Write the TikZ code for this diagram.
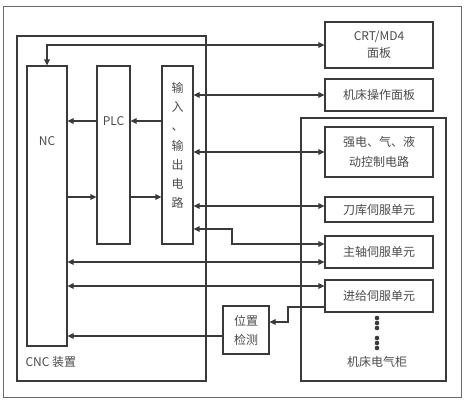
\documentclass[tikz,border=0pt]{standalone}
\usepackage{fontspec}
\setmainfont{Noto Sans CJK SC}
\usetikzlibrary{arrows.meta, positioning, calc}
\definecolor{linegray}{HTML}{3A3A3A}
\definecolor{textgray}{HTML}{4A4A4A}
\definecolor{framegray}{HTML}{6A6A6A}
\tikzset{
  box/.style={draw=linegray, line width=1.1pt, inner sep=0pt},
  txt/.style={text=textgray, font=\fontsize{12}{17}\selectfont, align=center},
  conn/.style={draw=linegray, line width=1.1pt},
  >={Triangle[length=6pt,width=5.5pt]},
}

\begin{document}
\begin{tikzpicture}[x=1pt,y=-1pt]
        \useasboundingbox (0,0) rectangle (465,400);
        % Outer frame and the two groups
        \draw[line width=1pt, framegray] (3.5,6) rectangle (461,397);
        \node[box, minimum width=189, minimum height=345] (cnc) at (111.5,208.5) {};
        \node[box, minimum width=145, minimum height=263] (cab) at (373.5,249.5) {};
        \node[txt, anchor=west] (cnctext) at (22,362) {CNC 装置};
        \node[txt] (cabtext) at (377,362) {机床电气柜};

        % CNC inner blocks
        \node[box, minimum width=40, minimum height=280] (nc) at (47,206) {};
        \node[box, minimum width=33, minimum height=178] (plc) at (113.5,155) {};
        \node[box, minimum width=31, minimum height=178] (io) at (177.5,155) {};
        \node[txt] (nctext) at (47,141) {NC};
        \node[txt] (plctext) at (113.5,121) {PLC};
        \node[txt, font=\fontsize{12}{19.2}\selectfont] (iotext) at (177.5,145.5)
            {输\\入\\、\\输\\出\\电\\路};

        % Panels and units
        \node[box, txt, minimum width=108, minimum height=46] (crt) at (379,45) {CRT/MD4\\面板};
        \node[box, txt, minimum width=108, minimum height=32] (panel) at (379,95) {机床操作面板};
        \node[box, txt, minimum width=108, minimum height=50,
              font=\fontsize{12}{20}\selectfont] (strong) at (379,152) {强电、气、液\\动控制电路};
        \node[box, txt, minimum width=108, minimum height=25] (tool) at (379,209.5) {刀库伺服单元};
        \node[box, txt, minimum width=108, minimum height=32] (spindle) at (379,252) {主轴伺服单元};
        \node[box, txt, minimum width=108, minimum height=32] (feed) at (379,296) {进给伺服单元};
        \node[box, txt, minimum width=46, minimum height=48,
              font=\fontsize{12}{19}\selectfont] (pos) at (246,330) {位置\\检测};

        % Dots below the feed unit
        \foreach \y in {318,323,328,338,343,348}
            \fill[linegray] (377,\y) circle (2.3);

        % Links inside the CNC
        \coordinate (low) at ([yshift=-42pt]plc.center);
        \draw[conn,->] (plc.west |- plctext) -- (nc.east |- plctext);
        \draw[conn,->] (io.west |- plctext) -- (plc.east |- plctext);
        \draw[conn,->] (nc.east |- low) -- (plc.west |- low);
        \draw[conn,->] (plc.east |- low) -- (io.west |- low);

        % Links to the panels and units
        \draw[conn,<->] (crt.west) -| (nc.north);
        \draw[conn,<->] (io.east |- panel.west) -- (panel.west);
        \draw[conn,<->] (io.east |- strong.west) -- (strong.west);
        \coordinate (tl) at ([yshift=3.5pt]tool.west);
        \draw[conn,<->] (io.east |- tl) -- (tl);
        \coordinate (bend) at (232,229);
        \draw[conn,<->] (io.east |- bend) -- (bend) |- ([yshift=8pt]spindle.west);
        \coordinate (sp) at ([yshift=-10pt]spindle.west);
        \draw[conn,<->] (nc.east |- sp) -- (sp);
        \coordinate (fd) at ([yshift=10pt]feed.west);
        \draw[conn,<->] (nc.east |- fd) -- (fd);

        % Position feedback
        \coordinate (fb) at (288,322);
        \draw[conn,->] ([yshift=-11pt]feed.west) -| (fb) -- (pos.east |- fb);
        \coordinate (ps) at ([yshift=-6pt]pos.west);
        \draw[conn,->] (ps) -- (nc.east |- ps);
\end{tikzpicture}
\end{document}
